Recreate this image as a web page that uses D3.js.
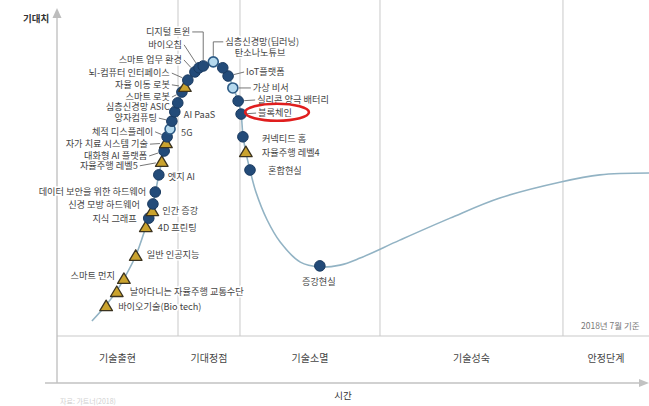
<!DOCTYPE html>
<html><head><meta charset="utf-8">
<script src="https://cdn.jsdelivr.net/npm/d3@7"></script>
<style>
html,body{margin:0;padding:0;background:#fff;}
svg{display:block;font-family:"Noto Sans CJK KR","Noto Sans",sans-serif;}
</style></head><body>
<svg id="chart" width="649" height="406"></svg>
<script>
// ---- hype curve (time 0-100, expectation 0-100) ----
const curveTime = [5.9,8.3,10.1,11.3,13.3,15.0,15.5,16.2,16.6,17.2,17.7,18.2,18.8,19.4,20.1,20.8,21.6,22.5,23.5,24.7,26.4,27.9,28.9,29.7,30.6,31.1,31.4,31.9,32.6,33.6,35.5,37.7,41.1,44.4,47.8,51.2,57.9,66.4,74.8,85.1,91.7,100];
const curveExpect = [16.6,20.9,24.7,27.9,34.1,41.8,44.2,47.7,50.9,55.8,59.3,63.5,66.8,70.2,73.7,76.7,79.4,81.8,83.9,85.3,86.1,85.0,82.6,79.4,75.6,72.1,66.5,61.9,57.1,51.2,43.7,37.8,32.4,31.1,31.6,33.5,38.3,44.2,49.6,53.9,55.8,56.3];

// ---- technologies ----
const techNames = ["디지털 트윈","바이오칩","스마트 업무 환경","뇌-컴퓨터 인터페이스","자율 이동 로봇","스마트 로봇","심층신경망 ASIC","AI PaaS","양자컴퓨팅","5G","체적 디스플레이","자가 치료 시스템 기술","대화형 AI 플랫폼","자율주행 레벨5","엣지 AI","데이터 보안을 위한 하드웨어","신경 모방 하드웨어","인간 증강","지식 그래프","4D 프린팅","일반 인공지능","스마트 먼지","날아다니는 자율주행 교통수단","바이오기술(Bio tech)","심층신경망(딥러닝)","탄소나노튜브","IoT플랫폼","가상 비서","실리콘 양극 배터리","블록체인","커넥티드 홈","자율주행 레벨4","혼합현실","증강현실"];
const techTime = [24.7,24.0,23.3,22.1,21.6,21.1,20.4,19.9,19.4,19.1,18.6,18.4,18.1,17.7,17.2,16.6,16.2,16.1,15.5,15.0,13.3,11.3,10.1,8.3,26.4,28.0,28.9,29.7,30.6,31.1,31.4,31.9,32.6,44.4];
const techExpect = [85.0,84.5,83.4,81.2,79.4,78.0,75.1,72.7,70.2,68.1,66.0,64.3,62.2,59.3,55.8,51.2,48.0,46.1,44.2,41.8,34.1,27.9,24.4,20.6,86.1,84.5,82.3,79.1,75.6,72.1,66.0,61.9,57.1,31.4];
// maturity class: dark = 5~10 yrs, light = 2~5 yrs, tri = 10+ yrs
const techClass = ["dark","dark","dark","dark","tri","dark","dark","dark","dark","light","dark","tri","dark","tri","dark","dark","dark","tri","dark","tri","tri","tri","tri","tri","light","dark","dark","light","dark","dark","dark","tri","dark","dark"];
const highlighted = "블록체인";

const phaseNames = ["기술출현","기대정점","기술소멸","기술성숙","안정단계"];
const phaseBounds = [0,20.44,30.91,54.56,85.47,100];

const yAxisTitle = "기대치";
const xAxisTitle = "시간";
const noteText = "2018년 7월 기준";
const sourceText = "자료: 가트너(2018)";

// ---- label layout (pixel offsets from marker) ----
const labelLayout = [
 [-13,-34,"end","elbow"],[-17,-23,"end","line"],[-13,-12,"end","line"],[-18,-7,"end","line"],
 [-15,-2,"end","line"],[-12,5,"end","line"],[-8,4,"end","line"],[9,3,"start","none"],
 [-15,-3,"end","line"],[11,4,"start","none"],[-14,-5,"end","line"],[-18,1,"end","line"],
 [-17,5,"end","line"],[-24,4,"end","line"],[9,2,"start","none"],[-9,0,"end","none"],
 [-13,1,"end","none"],[10,0,"start","none"],[-12,1,"end","none"],[12,1,"start","none"],
 [11,-1,"start","none"],[-9,-3,"end","none"],[13,0,"start","none"],[12,1,"start","none"],
 [12,-20,"start","elbow"],[12,-15,"start","none"],[18,-4,"start","line"],[20,0,"start","line"],
 [19,-1,"start","line"],[17,-1,"start","line"],[19,2,"start","none"],[16,1,"start","none"],
 [18,1,"start","none"],[-1,16,"middle","none"]
];

const svg = d3.select("#chart");
const x = d3.scaleLinear().domain([0,100]).range([57,649]);
const y = d3.scaleLinear().domain([0,100]).range([383,10]);
const bandTop = 336, axisY = 383, axisX = 57;
const gridC = "#c9c9c9", textC = "#444";

// phase dividers
svg.append("g").selectAll("line").data(phaseBounds.slice(1,-1)).join("line")
  .attr("x1",d=>x(d)).attr("x2",d=>x(d)).attr("y1",0).attr("y2",bandTop)
  .attr("stroke",gridC).attr("stroke-width",1);
// band line
svg.append("line").attr("x1",axisX).attr("x2",649).attr("y1",bandTop).attr("y2",bandTop)
  .attr("stroke",gridC).attr("stroke-width",1.2);
// axes
svg.append("line").attr("x1",axisX).attr("x2",axisX).attr("y1",16).attr("y2",axisY)
  .attr("stroke","#bdbdbd").attr("stroke-width",1.3);
svg.append("path").attr("d",`M${axisX-4.5},18 L${axisX},8 L${axisX+4.5},18 Z`).attr("fill","#bdbdbd");
svg.append("line").attr("x1",45).attr("x2",640).attr("y1",axisY).attr("y2",axisY)
  .attr("stroke","#c2c2c2").attr("stroke-width",1.3);
svg.append("path").attr("d",`M639,${axisY-4} L649,${axisY} L639,${axisY+4} Z`).attr("fill","#c2c2c2");

svg.append("text").attr("x",23).attr("y",22).text(yAxisTitle)
  .attr("font-size",9.5).attr("font-weight",700).attr("fill","#333");
svg.append("text").attr("x",343).attr("y",399).attr("text-anchor","middle").text(xAxisTitle)
  .attr("font-size",9.5).attr("fill","#333");
svg.append("text").attr("x",581).attr("y",329).text(noteText)
  .attr("font-size",8.5).attr("fill","#777");
svg.append("text").attr("x",60).attr("y",404).text(sourceText)
  .attr("font-size",7).attr("fill","#cfcfcf");

// phase labels
svg.append("g").selectAll("text").data(phaseNames).join("text")
  .attr("x",(d,i)=>(x(phaseBounds[i])+x(phaseBounds[i+1]))/2)
  .attr("y",362).attr("text-anchor","middle").attr("font-size",10).attr("fill",textC)
  .text(d=>d);

// curve
const pts = curveTime.map((t,i)=>[t,curveExpect[i]]);
svg.append("path").datum(pts)
  .attr("d",d3.line().x(d=>x(d[0])).y(d=>y(d[1])).curve(d3.curveCatmullRom.alpha(0.5)))
  .attr("fill","none").attr("stroke","#92b3c4").attr("stroke-width",1.6);

const techs = techNames.map((n,i)=>({name:n,t:techTime[i],e:techExpect[i],cls:techClass[i],lay:labelLayout[i]}));

// labels + leaders
const gLead = svg.append("g").attr("stroke","#666").attr("stroke-width",0.9).attr("fill","none");
const gLab = svg.append("g");
techs.forEach(d=>{
  const mx=x(d.t), my=y(d.e);
  const [dx,dy,anchor,lead]=d.lay;
  const lx=mx+dx, ly=my+dy;
  const txt = gLab.append("text").attr("x",lx).attr("y",ly).attr("dy","0.35em")
    .attr("text-anchor",anchor).attr("font-size",9.2).attr("fill",textC)
    .attr("stroke","#fff").attr("stroke-width",3).attr("paint-order","stroke")
    .text(d.name);
  const sx = anchor==="end" ? lx+2 : lx-2;
  if(lead==="line"){
    const vx=mx-sx, vy=my-ly, len=Math.hypot(vx,vy), r=6;
    if(len>r+1){
      gLead.append("line").attr("x1",sx).attr("y1",ly)
        .attr("x2",mx-vx/len*r).attr("y2",my-vy/len*r);
    }
  } else if(lead==="elbow"){
    gLead.append("path").attr("d",`M${sx},${ly} L${mx},${ly} L${mx},${my-6}`);
  }
  if(d.name===highlighted){ d.labelNode = txt.node(); }
});

// markers
const gM = svg.append("g");
techs.slice().reverse().forEach(d=>{
  const mx=x(d.t), my=y(d.e);
  if(d.cls==="tri"){
    const s=6;
    gM.append("path").attr("d",`M${mx},${my-s} L${mx+s*1.05},${my+s*0.75} L${mx-s*1.05},${my+s*0.75} Z`)
      .attr("fill","#caa32e").attr("stroke","#3b3320").attr("stroke-width",1.3).attr("stroke-linejoin","round");
  } else if(d.cls==="light"){
    gM.append("circle").attr("cx",mx).attr("cy",my).attr("r",5)
      .attr("fill","#b5d9ee").attr("stroke","#2d5b86").attr("stroke-width",1.6);
  } else {
    gM.append("circle").attr("cx",mx).attr("cy",my).attr("r",5.3)
      .attr("fill","#234b79").attr("stroke","#1a3a60").attr("stroke-width",1);
  }
});

// highlight ellipse
const hl = techs.find(d=>d.name===highlighted);
if(hl && hl.labelNode){
  const b = hl.labelNode.getBBox();
  svg.append("ellipse").attr("cx",b.x+b.width/2+2).attr("cy",b.y+b.height/2)
    .attr("rx",b.width/2+15).attr("ry",8.5)
    .attr("fill","none").attr("stroke","#e01e1e").attr("stroke-width",2.6);
}
</script>
</body></html>
